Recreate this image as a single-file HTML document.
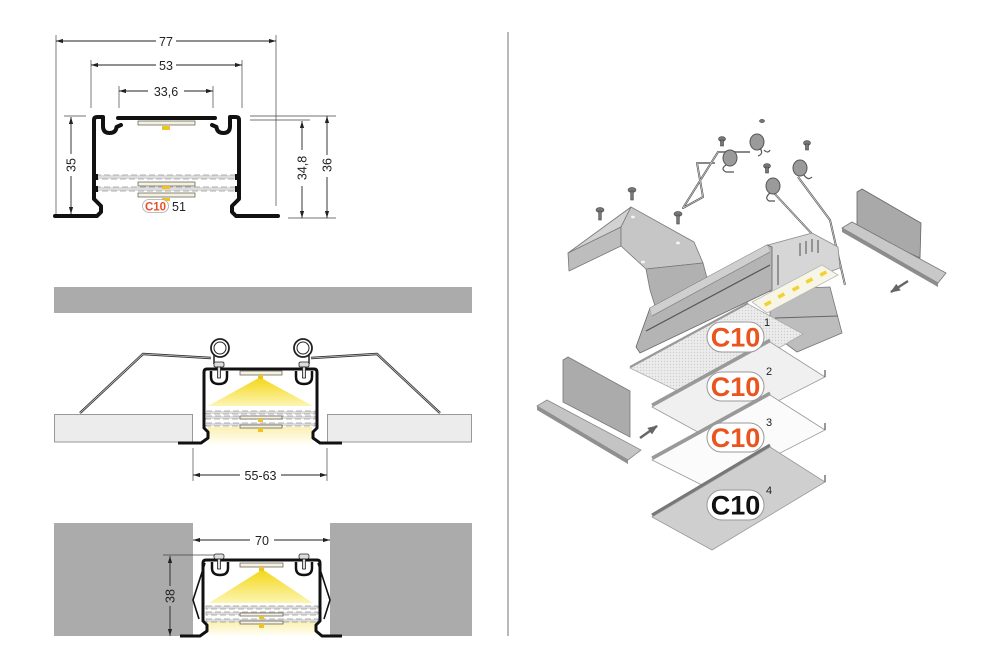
<!DOCTYPE html>
<html><head><meta charset="utf-8"><style>
html,body{margin:0;padding:0;background:#fff;}
svg{display:block;}
text{font-family:"Liberation Sans",sans-serif;}
</style></head><body>
<svg width="1000" height="667" viewBox="0 0 1000 667" xmlns="http://www.w3.org/2000/svg">
<defs>
<marker id="a" viewBox="0 0 10 6" refX="10" refY="3" markerWidth="7" markerHeight="4.5" markerUnits="userSpaceOnUse" orient="auto-start-reverse"><path d="M0,0 L10,3 L0,6z" fill="#222"/></marker>
<marker id="g" viewBox="0 0 10 8" refX="9" refY="4" markerWidth="10" markerHeight="8" markerUnits="userSpaceOnUse" orient="auto"><path d="M0,0 L10,4 L0,8z" fill="#666"/></marker>
<linearGradient id="cone" x1="0" y1="0" x2="0" y2="1"><stop offset="0" stop-color="#f4d81c"/><stop offset="1" stop-color="#fcf5b4"/></linearGradient>
<linearGradient id="glow" x1="0" y1="0" x2="0" y2="1"><stop offset="0" stop-color="#fbf0b0"/><stop offset="1" stop-color="#ffffff"/></linearGradient>
<pattern id="dots" width="3" height="3" patternUnits="userSpaceOnUse"><rect width="3" height="3" fill="#ececec"/><circle cx="1.5" cy="1.5" r="0.7" fill="#cfcfcf"/></pattern>
</defs>

<!-- divider -->
<line x1="508" y1="32" x2="508" y2="636" stroke="#888" stroke-width="1.2"/>

<!-- ============ TOP LEFT PROFILE ============ -->
<g stroke="#444" stroke-width="0.7" fill="none">
<line x1="56" y1="35" x2="56" y2="214"/>
<line x1="276" y1="35" x2="276" y2="206"/>
<line x1="91" y1="60" x2="91" y2="108"/>
<line x1="242" y1="60" x2="242" y2="108"/>
<line x1="119" y1="86" x2="119" y2="108"/>
<line x1="213" y1="86" x2="213" y2="108"/>
<line x1="64" y1="116" x2="86" y2="116"/>
<line x1="250" y1="116" x2="336" y2="116"/>
<line x1="250" y1="120" x2="310" y2="120"/>
<line x1="288" y1="218" x2="336" y2="218"/>
</g>
<g stroke="#222" stroke-width="0.9" marker-start="url(#a)" marker-end="url(#a)">
<line x1="56" y1="41" x2="276" y2="41"/>
<line x1="91" y1="65" x2="242" y2="65"/>
<line x1="119" y1="91" x2="213" y2="91"/>
<line x1="71" y1="117" x2="71" y2="214"/>
<line x1="302" y1="121" x2="302" y2="218"/>
<line x1="327" y1="116" x2="327" y2="218"/>
</g>
<g fill="#fff">
<rect x="156" y="33" width="20" height="16"/>
<rect x="156" y="57" width="20" height="16"/>
<rect x="148" y="83" width="36" height="16"/>
<rect x="63" y="154" width="16" height="22"/>
<rect x="294" y="150" width="16" height="36"/>
<rect x="319" y="155" width="16" height="22"/>
</g>
<g font-size="12.5" fill="#222" text-anchor="middle">
<text x="166" y="46">77</text>
<text x="166" y="70">53</text>
<text x="166" y="96">33,6</text>
<text transform="translate(75.5,165) rotate(-90)">35</text>
<text transform="translate(306.5,168) rotate(-90)">34,8</text>
<text transform="translate(331.5,165) rotate(-90)">36</text>
</g>
<!-- diffuser bands -->
<g stroke="#999" stroke-width="0.7">
<rect x="95" y="175" width="144" height="4" fill="#dcdcdc" stroke-dasharray="6 3"/>
<rect x="95" y="187" width="144" height="4" fill="#dcdcdc" stroke-dasharray="6 3"/>
<rect x="138" y="121" width="57" height="4" fill="#f6f1dc" stroke="#555"/>
<rect x="138" y="182" width="57" height="4" fill="#f6f1dc" stroke="#555"/>
<rect x="138" y="193" width="57" height="4" fill="#f6f1dc" stroke="#555"/>
</g>
<rect x="162" y="126" width="8" height="4" fill="#f0c420"/>
<rect x="162" y="186" width="8" height="3" fill="#f0c420"/>
<rect x="162" y="198" width="8" height="3" fill="#f0c420"/>
<!-- profile outline -->
<g stroke="#111" stroke-width="4" fill="none" stroke-linejoin="round" stroke-linecap="round">
<path d="M55,216 L97,216 L101,212 L101,206 L94,199 L94,120 Q94,117 97,117 L103,117 L103,126 Q103,133 109.5,133 Q116,133 116.5,127 L121,125"/>
<path d="M118,118 L215,118"/>
<path d="M278,216 L236,216 L232,212 L232,206 L239,199 L239,120 Q239,117 236,117 L230,117 L230,126 Q230,133 223.5,133 Q217,133 216.5,127 L212,125"/>
</g>
<g fill="#111">
<rect x="95" y="174" width="3" height="6"/><rect x="95" y="186" width="3" height="6"/>
<rect x="235" y="174" width="3" height="6"/><rect x="235" y="186" width="3" height="6"/>
</g>
<rect x="142.5" y="199.5" width="26" height="13" rx="6.5" fill="#fff" stroke="#aaa" stroke-width="0.8"/>
<text x="155.5" y="210.5" font-size="11.5" font-weight="bold" fill="#e8502a" text-anchor="middle">C10</text>
<text x="172" y="211" font-size="12.5" fill="#222">51</text>

<!-- ============ MIDDLE SECTION ============ -->
<rect x="54" y="287" width="418" height="26" fill="#ababab"/>
<rect x="54.5" y="414.5" width="138" height="27.5" fill="#ececec" stroke="#999" stroke-width="1"/>
<rect x="327.5" y="414.5" width="144" height="27.5" fill="#ececec" stroke="#999" stroke-width="1"/>
<!-- wires -->
<g fill="none" stroke-linejoin="round">
<polyline points="211,358 143,354 80,413" stroke="#333" stroke-width="2.4"/>
<polyline points="211,358 143,354 80,413" stroke="#ccc" stroke-width="0.8"/>
<polyline points="311,358 377,354 440,413" stroke="#333" stroke-width="2.4"/>
<polyline points="311,358 377,354 440,413" stroke="#ccc" stroke-width="0.8"/>
</g>
<g fill="none" stroke="#222">
<circle cx="220" cy="348" r="9" stroke-width="1.8"/><circle cx="220" cy="348" r="6" stroke-width="1"/>
<circle cx="303" cy="348" r="9" stroke-width="1.8"/><circle cx="303" cy="348" r="6" stroke-width="1"/>
<line x1="214" y1="355" x2="214" y2="364" stroke-width="1.5"/>
<line x1="309" y1="355" x2="309" y2="364" stroke-width="1.5"/>
</g>
<polygon points="257,379 263,379 313,406 208,406" fill="url(#cone)"/>
<rect x="208" y="427" width="104" height="19" fill="url(#glow)"/>
<g stroke="#999" stroke-width="0.7">
<rect x="206" y="411" width="109" height="3" fill="#dcdcdc" stroke-dasharray="6 3"/>
<rect x="206" y="416" width="109" height="3" fill="#dcdcdc" stroke-dasharray="6 3"/>
<rect x="206" y="423" width="109" height="3" fill="#dcdcdc" stroke-dasharray="6 3"/>
<rect x="240" y="371" width="42" height="4" fill="#f6f1dc" stroke="#555"/>
<rect x="240" y="416" width="42" height="3" fill="#f6f1dc" stroke="#555"/>
<rect x="240" y="425" width="42" height="3" fill="#f6f1dc" stroke="#555"/>
</g>
<rect x="258" y="375" width="5" height="4" fill="#f0c420"/>
<rect x="258" y="419" width="5" height="3" fill="#f0c420"/>
<rect x="258" y="428" width="5" height="4" fill="#f0c420"/>
<g stroke="#111" stroke-width="3" fill="none" stroke-linejoin="round">
<path d="M178,443 L201,443 L208,438 L208,432 L204,428 L204,372 Q204,369 207,369 L314,369 Q317,369 317,372 L317,428 L313,432 L313,438 L320,443 L342,443"/>
<path d="M211,371 L211,377 Q211,384 219,384 Q227,384 227,377 L227,371" stroke-width="2.5"/>
<path d="M296,371 L296,377 Q296,384 304,384 Q312,384 312,377 L312,371" stroke-width="2.5"/>
</g>
<g fill="#ddd" stroke="#222" stroke-width="0.8">
<rect x="214" y="362" width="10" height="5" rx="1.5"/><rect x="217.5" y="367" width="3" height="11"/>
<rect x="299" y="362" width="10" height="5" rx="1.5"/><rect x="302.5" y="367" width="3" height="11"/>
</g>
<g stroke="#444" stroke-width="0.7">
<line x1="193" y1="448" x2="193" y2="481"/>
<line x1="327" y1="448" x2="327" y2="481"/>
</g>
<line x1="193" y1="475" x2="327" y2="475" stroke="#222" stroke-width="0.9" marker-start="url(#a)" marker-end="url(#a)"/>
<rect x="240" y="467" width="41" height="16" fill="#fff"/>
<text x="260.5" y="480" font-size="12.5" fill="#222" text-anchor="middle">55-63</text>

<!-- ============ BOTTOM SECTION ============ -->
<rect x="54" y="523" width="139" height="113" fill="#ababab"/>
<rect x="330" y="523" width="142" height="113" fill="#ababab"/>
<line x1="193" y1="540" x2="330" y2="540" stroke="#222" stroke-width="0.9" marker-start="url(#a)" marker-end="url(#a)"/>
<rect x="250" y="532" width="24" height="16" fill="#fff"/>
<text x="262" y="545" font-size="12.5" fill="#222" text-anchor="middle">70</text>
<line x1="163" y1="555" x2="216" y2="555" stroke="#444" stroke-width="0.7"/>
<line x1="170" y1="556" x2="170" y2="636" stroke="#222" stroke-width="0.9" marker-start="url(#a)" marker-end="url(#a)"/>
<rect x="162" y="586" width="16" height="20" fill="#ababab"/>
<text transform="translate(174.5,596) rotate(-90)" font-size="12.5" fill="#222" text-anchor="middle">38</text>
<polygon points="260,571 265,571 313,603 209,603" fill="url(#cone)"/>
<rect x="208" y="622" width="108" height="15" fill="url(#glow)"/>
<g stroke="#999" stroke-width="0.7">
<rect x="206" y="606" width="112" height="3" fill="#dcdcdc" stroke-dasharray="6 3"/>
<rect x="206" y="612" width="112" height="3" fill="#dcdcdc" stroke-dasharray="6 3"/>
<rect x="206" y="619" width="112" height="3" fill="#dcdcdc" stroke-dasharray="6 3"/>
<rect x="240" y="563" width="43" height="4" fill="#f6f1dc" stroke="#555"/>
<rect x="240" y="613" width="43" height="3" fill="#f6f1dc" stroke="#555"/>
<rect x="240" y="621" width="43" height="3" fill="#f6f1dc" stroke="#555"/>
</g>
<rect x="259" y="567" width="5" height="4" fill="#f0c420"/>
<rect x="259" y="616" width="5" height="3" fill="#f0c420"/>
<rect x="259" y="624" width="5" height="4" fill="#f0c420"/>
<g stroke="#111" stroke-width="3" fill="none" stroke-linejoin="round">
<path d="M180,636 L200,636 L207,631 L207,625 L203,621 L203,563 Q203,560 206,560 L317,560 Q320,560 320,563 L320,621 L316,625 L316,631 L322,636 L342,636"/>
<path d="M212,562 L212,568 Q212,575 220,575 Q228,575 228,568 L228,562" stroke-width="2.5"/>
<path d="M296,562 L296,568 Q296,575 304,575 Q312,575 312,568 L312,562" stroke-width="2.5"/>
<path d="M205,563 L193,600 L199,619" stroke-width="1.6"/>
<path d="M318,563 L330,600 L324,619" stroke-width="1.6"/>
</g>
<g fill="#ddd" stroke="#222" stroke-width="0.8">
<rect x="214" y="554" width="10" height="5" rx="2"/><rect x="217.5" y="559" width="3" height="10"/>
<rect x="299" y="554" width="10" height="5" rx="2"/><rect x="302.5" y="559" width="3" height="10"/>
</g>

<!-- ============ RIGHT EXPLODED VIEW ============ -->
<!-- right end cap -->
<polygon points="857,192 862,189 921,223 920,258 857,229" fill="#a9a9a9" stroke="#666" stroke-width="0.8"/>
<polygon points="842,228 852,222 946,273 938,283" fill="#c8c8c8" stroke="#777" stroke-width="0.8"/>
<polygon points="842,228 938,283 938,287 842,232" fill="#8d8d8d"/>
<line x1="908" y1="281" x2="891" y2="292" stroke="#666" stroke-width="2.5" marker-end="url(#g)"/>

<!-- bracket -->
<g stroke="#777" stroke-width="0.8" stroke-linejoin="round">
<polygon points="568,253 631,207 621,227 569,254" fill="#d2d2d2"/>
<polygon points="568,253 621,227 621,246 569,271" fill="#bdbdbd"/>
<polygon points="621,227 631,207 694,242 703,263 646,269 621,246" fill="#c6c6c6"/>
<polygon points="646,269 703,263 707,278 706,291 656,309 650,290" fill="#b1b1b1"/>
</g>
<g fill="#f4f4f4"><ellipse cx="633" cy="217" rx="2" ry="1.4"/><ellipse cx="678" cy="243" rx="2" ry="1.4"/><ellipse cx="643" cy="262" rx="2" ry="1.4"/></g>

<!-- wires -->
<g fill="none" stroke-linejoin="round">
<g stroke="#555" stroke-width="2">
<polyline points="750,152 718,152 683,208 703,197 697,163 715,163"/>
<polyline points="773,192 813,235"/>
<polyline points="798,177 830,220 845,285"/>
</g>
<g stroke="#ddd" stroke-width="0.7">
<polyline points="750,152 718,152 683,208 703,197 697,163 715,163"/>
<polyline points="773,192 813,235"/>
<polyline points="798,177 830,220 845,285"/>
</g>
</g>
<!-- springs -->
<g stroke="#555" stroke-width="1" fill="#9a9a9a">
<ellipse cx="757" cy="142" rx="7" ry="8"/>
<ellipse cx="730" cy="158" rx="7" ry="8"/>
<ellipse cx="773" cy="186" rx="7" ry="8"/>
<ellipse cx="800" cy="168" rx="7" ry="8"/>
</g>
<g fill="none" stroke="#555" stroke-width="1.2">
<path d="M760,148 q4,6 -2,8 M764,150 q4,4 6,0"/>
<path d="M726,165 q-6,4 0,7 l8,0"/>
<path d="M770,193 q-6,5 -1,8 l6,0"/>
<path d="M804,175 q4,6 8,2"/>
</g>
<!-- screws -->
<g fill="#777" stroke="#444" stroke-width="0.6">
<g transform="translate(600,210)"><ellipse cx="0" cy="0" rx="4" ry="2.4"/><rect x="-1.3" y="1" width="2.6" height="9"/></g>
<g transform="translate(632,190)"><ellipse cx="0" cy="0" rx="4" ry="2.4"/><rect x="-1.3" y="1" width="2.6" height="9"/></g>
<g transform="translate(678,214)"><ellipse cx="0" cy="0" rx="4" ry="2.4"/><rect x="-1.3" y="1" width="2.6" height="9"/></g>
<g transform="translate(722,139)"><ellipse cx="0" cy="0" rx="3.5" ry="2.4"/><rect x="-1.5" y="1" width="3" height="6"/></g>
<g transform="translate(807,143)"><ellipse cx="0" cy="0" rx="3.5" ry="2.4"/><rect x="-1.5" y="1" width="3" height="6"/></g>
<g transform="translate(767,166)"><ellipse cx="0" cy="0" rx="3.5" ry="2.4"/><rect x="-1.5" y="1" width="3" height="6"/></g>
<g transform="translate(762,121)"><ellipse cx="0" cy="0" rx="2.5" ry="1.6"/></g>
</g>

<!-- main profile bar -->
<polygon points="770,289 830,287 842,333 797,352 770,332" fill="#bdbdbd" stroke="#777" stroke-width="0.8"/>
<line x1="775" y1="318" x2="838" y2="316" stroke="#666" stroke-width="1"/>
<polygon points="768,245 812,233 838,247 840,268 823,274 770,292" fill="#d6d6d6" stroke="#888" stroke-width="0.8"/>
<g stroke="#666" stroke-width="1.2">
<line x1="800" y1="243" x2="800" y2="256"/><line x1="806" y1="241" x2="806" y2="254"/><line x1="812" y1="239" x2="812" y2="252"/><line x1="818" y1="240" x2="818" y2="253"/>
<line x1="778" y1="255" x2="778" y2="285"/>
</g>
<polygon points="650,308 767,245 772,247 772,290 640,353 636,347" fill="#b4b4b4" stroke="#666" stroke-width="0.8"/>
<polygon points="650,308 767,245 770,252 652,316" fill="#cfcfcf"/>
<line x1="646" y1="331" x2="770" y2="265" stroke="#555" stroke-width="1.2"/>
<line x1="652" y1="316" x2="770" y2="252" stroke="#888" stroke-width="0.8"/>
<!-- LED strip -->
<polygon points="752,302 822,265 838,275 767,313" fill="#f7f5e6" stroke="#b8b8b8" stroke-width="0.8"/>
<g fill="#f2d230">
<rect x="764" y="302" width="7" height="3.5" transform="rotate(-28 767 303)"/>
<rect x="778" y="294" width="7" height="3.5" transform="rotate(-28 781 296)"/>
<rect x="792" y="287" width="7" height="3.5" transform="rotate(-28 795 288)"/>
<rect x="806" y="279" width="7" height="3.5" transform="rotate(-28 809 281)"/>
<rect x="820" y="272" width="7" height="3.5" transform="rotate(-28 823 274)"/>
</g>

<!-- left end cap -->
<polygon points="563,360 568,357 630,391 630,437 563,402" fill="#ababab" stroke="#777" stroke-width="0.8"/>
<polygon points="537,406 547,400 641,450 628,460" fill="#c4c4c4" stroke="#888" stroke-width="0.8"/>
<polygon points="537,406 628,460 628,464 537,410" fill="#909090"/>
<line x1="640" y1="438" x2="657" y2="426" stroke="#666" stroke-width="2.5" marker-end="url(#g)"/>

<!-- diffusers -->
<polygon points="630,368 748,304 803,334 692,398" fill="url(#dots)" stroke="#aaa" stroke-width="0.8"/>
<line x1="630" y1="367" x2="748" y2="303" stroke="#999" stroke-width="2"/>
<polygon points="652,407 770,342 825,377 707,437" fill="#f0f0f0" stroke="#999" stroke-width="0.8"/>
<line x1="652" y1="405" x2="770" y2="340" stroke="#999" stroke-width="3"/>
<polygon points="652,460 770,395 825,430 710,489" fill="#fbfbfb" stroke="#999" stroke-width="0.8"/>
<line x1="652" y1="458" x2="770" y2="393" stroke="#999" stroke-width="3"/>
<polygon points="652,517 770,447 825,482 712,550" fill="#cfcfcf" stroke="#999" stroke-width="0.8"/>
<line x1="652" y1="515" x2="770" y2="445" stroke="#777" stroke-width="3"/>
<g stroke="#777" stroke-width="1.5">
<line x1="825" y1="377" x2="825" y2="370"/><line x1="825" y1="430" x2="825" y2="423"/><line x1="825" y1="482" x2="825" y2="475"/>
</g>

<!-- badges -->
<g stroke="#999" stroke-width="1" fill="#fff">
<rect x="707" y="322" width="57" height="30" rx="15"/>
<rect x="707" y="372" width="57" height="29" rx="14.5"/>
<rect x="707" y="423" width="57" height="29" rx="14.5"/>
<rect x="707" y="490" width="57" height="30" rx="15"/>
</g>
<g font-size="27" font-weight="bold" text-anchor="middle">
<text x="735.5" y="346.5" fill="#e9541f">C10</text>
<text x="735.5" y="396" fill="#e9541f">C10</text>
<text x="735.5" y="447" fill="#e9541f">C10</text>
<text x="735.5" y="514.5" fill="#111">C10</text>
</g>
<g font-size="11" fill="#222">
<text x="764" y="326">1</text>
<text x="766" y="375">2</text>
<text x="766" y="426">3</text>
<text x="766" y="494">4</text>
</g>
</svg>
</body></html>
